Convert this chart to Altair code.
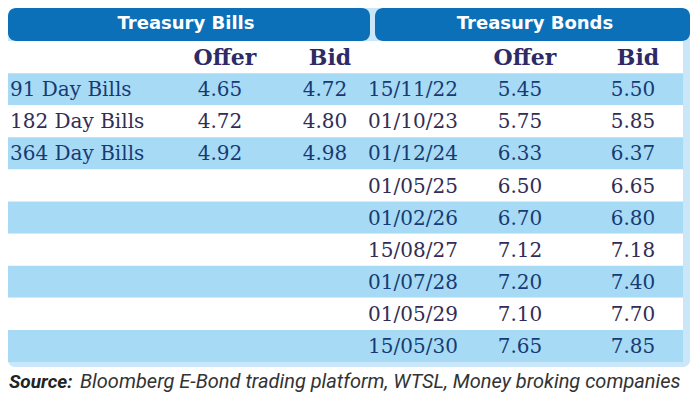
import altair as alt
import pandas as pd

# ---- data ----
bill_names = ["91 Day Bills", "182 Day Bills", "364 Day Bills"]
bill_offer = [4.65, 4.72, 4.92]
bill_bid = [4.72, 4.80, 4.98]

bond_dates = ["15/11/22", "01/10/23", "01/12/24", "01/05/25", "01/02/26",
              "15/08/27", "01/07/28", "01/05/29", "15/05/30"]
bond_offer = [5.45, 5.75, 6.33, 6.50, 6.70, 7.12, 7.20, 7.10, 7.65]
bond_bid = [5.50, 5.85, 6.37, 6.65, 6.80, 7.18, 7.40, 7.70, 7.85]

group_titles = ["Treasury Bills", "Treasury Bonds"]
col_headers = ["Offer", "Bid"]
source_label = "Source:"
source_text = "Bloomberg E-Bond trading platform, WTSL, Money broking companies"

# ---- tables built from the lists ----
row_keys = ["title", "head"] + [f"r{i}" for i in range(len(bond_dates))]
shade = ["blue" if i % 2 == 0 else "white" for i in range(len(bond_dates))]

bands = pd.DataFrame({"row": row_keys[2:], "shade": shade})

labels = pd.DataFrame({"row": row_keys[2:2 + len(bill_names)], "ci": 0,
                       "txt": bill_names, "shade": shade[:len(bill_names)]})

cells = []
for i, (o, b) in enumerate(zip(bill_offer, bill_bid)):
    cells.append({"row": row_keys[2 + i], "ci": 1, "txt": f"{o:.2f}", "shade": shade[i]})
    cells.append({"row": row_keys[2 + i], "ci": 2, "txt": f"{b:.2f}", "shade": shade[i]})
for i, (d, o, b) in enumerate(zip(bond_dates, bond_offer, bond_bid)):
    cells.append({"row": row_keys[2 + i], "ci": 3, "txt": d, "shade": shade[i]})
    cells.append({"row": row_keys[2 + i], "ci": 4, "txt": f"{o:.2f}", "shade": shade[i]})
    cells.append({"row": row_keys[2 + i], "ci": 5, "txt": f"{b:.2f}", "shade": shade[i]})
cells = pd.DataFrame(cells)

heads = pd.DataFrame({"row": "head", "ci": [1, 2, 4, 5],
                      "txt": col_headers + col_headers})

# ---- scales ----
xs = alt.Scale(domain=[0, 1, 2, 3, 4, 5], range=[2, 212, 317, 405, 512, 625],
               zero=False, nice=False)
ys = alt.Scale(domain=row_keys, range=[1, 354], paddingInner=0, paddingOuter=0)
X = alt.X("ci:Q", scale=xs, axis=None)
Y = alt.Y("row:N", scale=ys, axis=None)
txt_color = alt.Color("shade:N", scale=alt.Scale(domain=["blue", "white"],
                      range=["#183a74", "#332d55"]), legend=None)

base_dummy = alt.Chart(pd.DataFrame({"a": [0]}))

frame = base_dummy.mark_rect(fill="#c9e7f8", cornerRadius=7).encode(
    x=alt.value(0), x2=alt.value(682), y=alt.value(0), y2=alt.value(359))
inner = base_dummy.mark_rect(fill="white").encode(
    x=alt.value(0), x2=alt.value(675), y=alt.value(33), y2=alt.value(354))

band_layer = alt.Chart(bands).mark_rect().encode(
    x=alt.value(0), x2=alt.value(675), y=Y,
    fill=alt.Fill("shade:N", scale=alt.Scale(domain=["blue", "white"],
                  range=["#a7dbf5", "#ffffff"]), legend=None))

bar_l = base_dummy.mark_rect(fill="#0b70b8", cornerRadius=8).encode(
    x=alt.value(0), x2=alt.value(362), y=alt.value(0), y2=alt.value(33))
bar_r = base_dummy.mark_rect(fill="#0b70b8", cornerRadius=8).encode(
    x=alt.value(367), x2=alt.value(682), y=alt.value(0), y2=alt.value(33))

title_style = dict(font="DejaVu Sans", fontWeight="bold", fontSize=18,
                   color="white", align="center", baseline="middle")
title_l = alt.Chart(pd.DataFrame({"t": [group_titles[0]]})).mark_text(**title_style).encode(
    x=alt.value(178), y=alt.value(16), text="t:N")
title_r = alt.Chart(pd.DataFrame({"t": [group_titles[1]]})).mark_text(**title_style).encode(
    x=alt.value(527), y=alt.value(16), text="t:N")

head_layer = alt.Chart(heads).mark_text(
    font="DejaVu Serif", fontWeight="bold", fontSize=22, color="#2d2a66",
    align="center", baseline="middle", dx=5, dy=1).encode(x=X, y=Y, text="txt:N")

label_layer = alt.Chart(labels).mark_text(
    font="DejaVu Serif", fontSize=20, align="left", baseline="middle", dy=1).encode(
    x=X, y=Y, text="txt:N", color=txt_color)

cell_layer = alt.Chart(cells).mark_text(
    font="DejaVu Serif", fontSize=20, align="center", baseline="middle", dy=1).encode(
    x=X, y=Y, text="txt:N", color=txt_color)

src_b = alt.Chart(pd.DataFrame({"t": [source_label]})).mark_text(
    font="Roboto", fontWeight="bold", fontStyle="italic", fontSize=19,
    color="#222222", align="left", baseline="middle").encode(
    x=alt.value(1), y=alt.value(374), text="t:N")
src_r = alt.Chart(pd.DataFrame({"t": [source_text]})).mark_text(
    font="Roboto", fontStyle="italic", fontSize=20,
    color="#333333", align="left", baseline="middle").encode(
    x=alt.value(72), y=alt.value(374), text="t:N")

chart = alt.layer(frame, inner, band_layer, bar_l, bar_r, title_l, title_r,
                  head_layer, label_layer, cell_layer, src_b, src_r).properties(
    width=684, height=384, padding=0, autosize=alt.AutoSizeParams(type="none"),
    background="white"
).configure_view(strokeWidth=0)

chart.save("out.html", embed_options={"renderer": "svg", "actions": False})
